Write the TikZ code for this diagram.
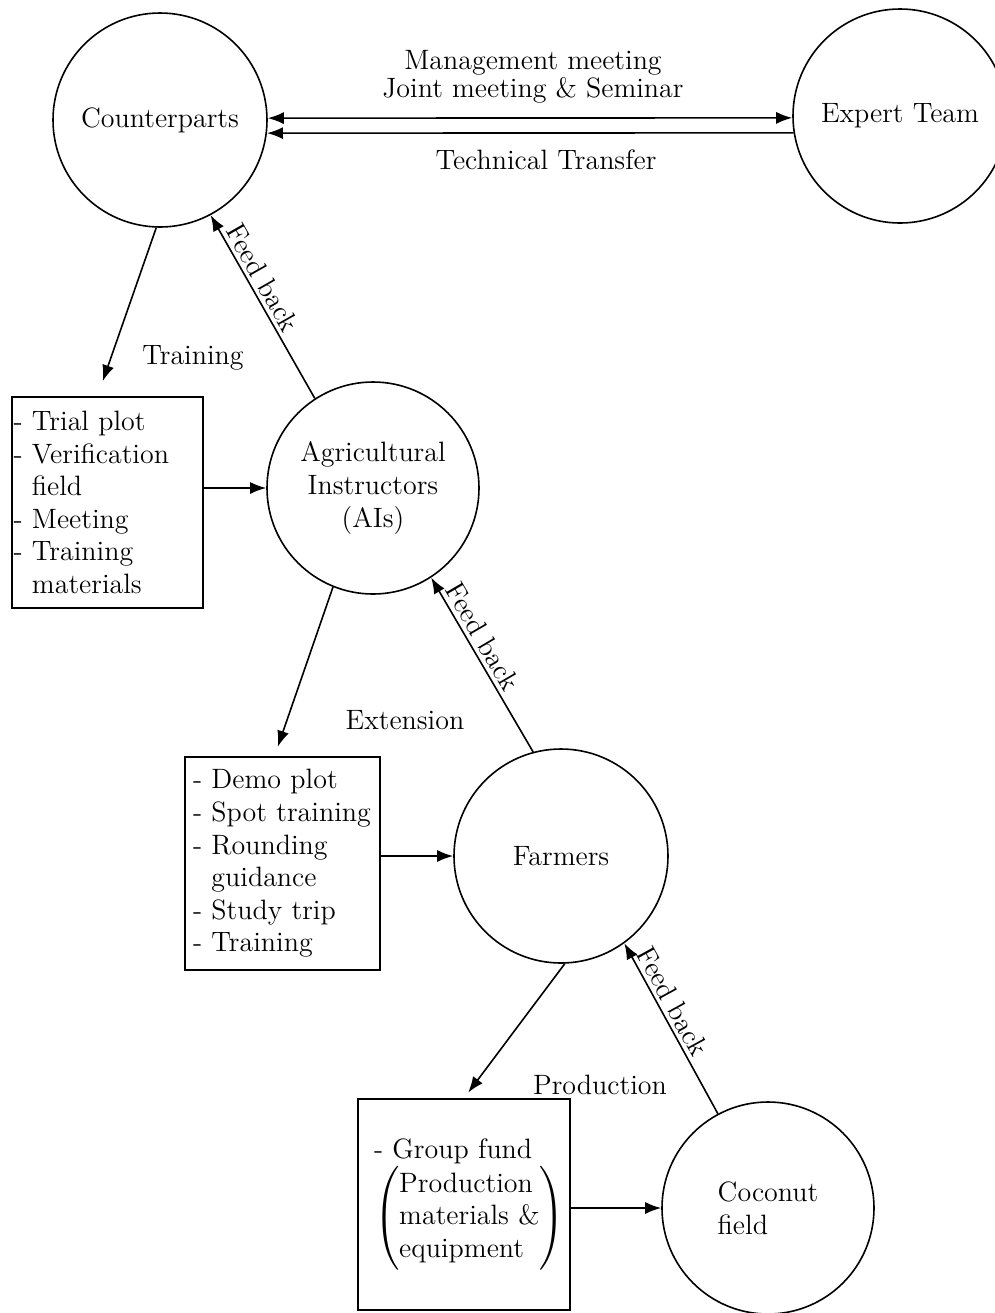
\documentclass[tikz,border=0pt]{standalone}
\usepackage{amsmath}
\usetikzlibrary{arrows.meta, positioning}

\tikzset{
  party/.style={draw, circle, minimum size=#1, inner sep=0pt, align=center},
  party/.default=107pt,
  listbox/.style={draw, rectangle, align=left, font=\fontsize{14}{16.3}\selectfont},
  feedlbl/.style={sloped, above, pos=0.62, inner sep=2pt},
}

\begin{document}
\begin{tikzpicture}[x=0.5pt, y=-0.5pt, line width=0.8pt,
  font=\fontsize{14}{16.5}\selectfont, >={Latex[length=8pt,width=6pt]}]
\useasboundingbox (0,0) rectangle (995,1313);

\node[party] (cp) at (160,120) {Counterparts};
\node[party] (et) at (900,116) {Expert Team};
\node[party=106pt] (ai) at (373,488) {Agricultural\\Instructors\\(AIs)};
\node[party] (fm) at (561,856) {Farmers};
\node[party=106pt, align=left] (cf) at (768,1208) {Coconut\\field};

\node[listbox, minimum height=105.5pt, text width=94pt, inner xsep=0.75pt] (tbox) at (107.5,502.5)
  {-~Trial~plot\\-~Verification\\\phantom{-~}field\\-~Meeting\\-~Training\\\phantom{-~}materials};
\node[listbox, minimum height=106.5pt, text width=89.5pt, inner xsep=4pt] (ebox) at (282.5,863.5)
  {-~Demo~plot\\-~Spot~training\\-~Rounding\\\phantom{-~}guidance\\-~Study~trip\\-~Training};
\node[listbox, minimum height=105.5pt, text width=90pt, inner xsep=8pt] (pbox) at (464,1204.5)
  {-~Group~fund\\$\left(\begin{tabular}{@{}l@{}}Production\\materials~\&\\equipment\end{tabular}\right)$};

% top links
\draw[<->] (cp.1) -- (et.181);
\draw[<-] (cp.-7.5) -- (et.189.7);
\node[align=center, font=\fontsize{14}{14}\selectfont] (meetlbl) at (533,77) {Management meeting\\Joint meeting \& Seminar};
\node (techlbl) at (546,160) {Technical Transfer};

% down the chain
\draw[->, shorten >=8pt] (cp.-92) -- ([xshift=-5pt]tbox.north);
\node (trainlbl) at (193,358) {Training};
\draw[->] (tbox.east |- ai.west) -- (ai.west);
\draw[->] (ai.123) -- (cp.-62) node[feedlbl] {Feed back};

\draw[->, shorten >=5pt] (ai.-112) -- ([xshift=-4pt]ebox.north);
\node (extlbl) at (405,720) {Extension};
\draw[->] (ebox.east |- fm.west) -- (fm.west);
\draw[->] (fm.105.5) -- (ai.-57) node[feedlbl] {Feed back};

\draw[->, shorten >=3.5pt] (fm.-88) -- (pbox.north);
\node (prodlbl) at (600,1085) {Production};
\draw[->] (pbox.east |- cf.west) -- (cf.west);
\draw[->] (cf.118) -- (fm.-54) node[feedlbl] {Feed back};
\end{tikzpicture}
\end{document}
